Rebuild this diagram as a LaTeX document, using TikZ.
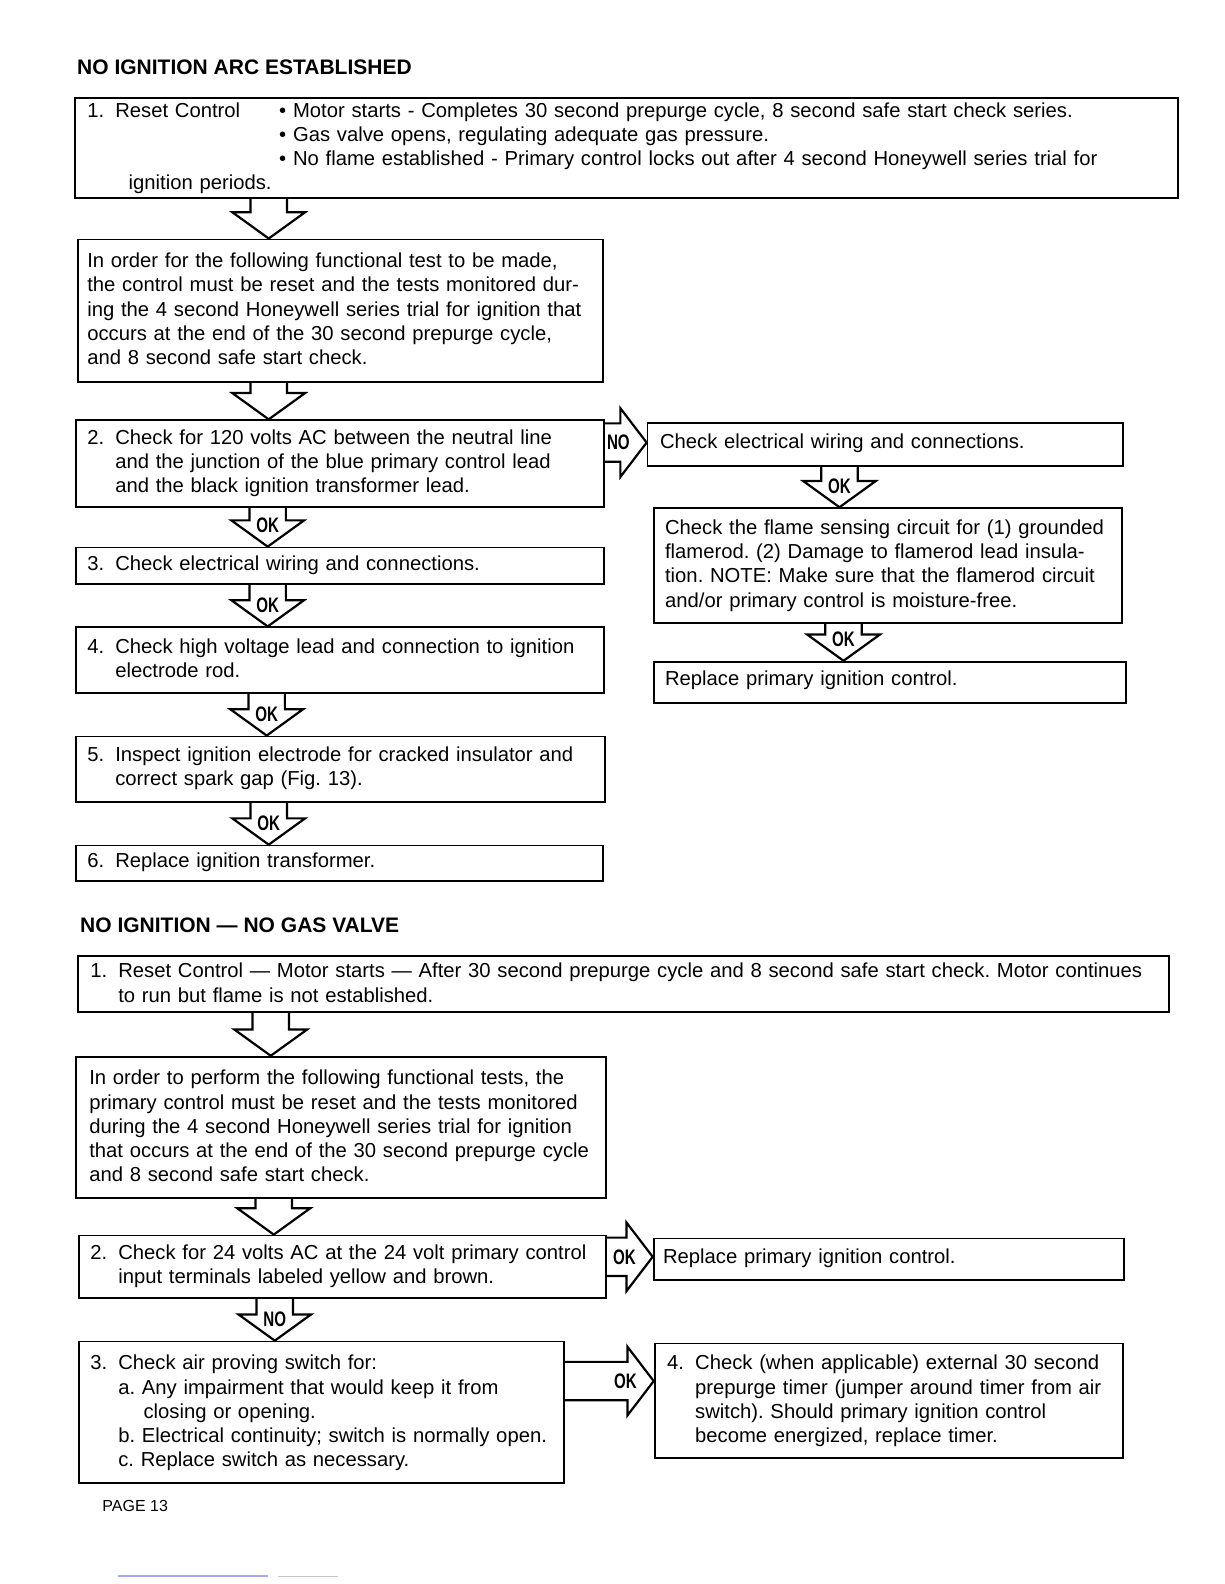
\documentclass[tikz,border=0pt]{standalone}
\usepackage{fontspec}
\setmainfont{Liberation Sans}
\newfontfamily\condfont{Liberation Sans}[FakeStretch=0.72]
\usetikzlibrary{calc,fit}
\frenchspacing
\newlength\numw
\setlength\numw{14pt}
\newcommand\nm[1]{\makebox[\numw][l]{#1}}
\newcommand\ind{\hspace*{\numw}}
\newcommand\darrow[4]{%
  \coordinate (dx) at (#3,0);
  \coordinate (ds) at (dx |- #1.south);
  \coordinate (de) at (dx |- #2.north);
  \draw[arr] ($(ds)+(-18,0)$) -- ($(de)+(-18,-26)$) -- ++(-18,0) -- (de) -- ++(36,-26) -- ++(-18,0) -- ($(ds)+(18,0)$);
  \node[lbl] at ($(de)+(0,-21)$) {#4};}
\newcommand\rarrow[4]{%
  \coordinate (ry) at ($(#2.north west)+(0,#3)$);
  \coordinate (rs) at (#1.east |- ry);
  \draw[arr] ($(rs)+(0,-19)$) -- ($(ry)+(-26,-19)$) -- ++(0,-15) -- (ry) -- ++(-26,34) -- ++(0,-15) -- ($(rs)+(0,19)$);
  \node[lbl] at ($(ry)+(-28,0)$) {#4};}
\begin{document}
\begin{tikzpicture}[x=0.505pt,y=-0.505pt,
  box/.style={draw, line width=0.9pt, inner sep=0pt},
  arr/.style={draw, line width=1.1pt, line join=miter},
  txt/.style={anchor=base west, inner sep=0pt, align=left, text width=25cm, font=\fontsize{10.12}{12.12}\selectfont},
  ttl/.style={anchor=base west, inner sep=0pt, font=\bfseries\fontsize{10.5}{12}\selectfont},
  lbl/.style={inner sep=0pt, font=\condfont\bfseries\fontsize{10.5}{10.5}\selectfont}]
\useasboundingbox (0,0) rectangle (1212,1568);

% ---------- Section 1 ----------
\node[ttl] (title1) at (76,74) {NO IGNITION ARC ESTABLISHED};

\node[box, fit={(74,97) (1166,196)}] (b1) {};
\node[txt] (b1a) at (86,116) {\nm{1.}Reset Control};
\node[txt] (b1b) at (276,116) {• Motor starts - Completes 30 second prepurge cycle, 8 second safe start check series.\\
• Gas valve opens, regulating adequate gas pressure.\\
• No flame established - Primary control locks out after 4 second Honeywell series trial for};
\node[txt] (b1c) at (127,188) {ignition periods.};

\node[box, fit={(77,237) (597,378)}] (b2) {};
\node[txt] (b2t) at (86,265) {In order for the following functional test to be made,\\
the control must be reset and the tests monitored dur-\\
ing the 4 second Honeywell series trial for ignition that\\
occurs at the end of the 30 second prepurge cycle,\\
and 8 second safe start check.};

\node[box, fit={(75,416) (598,502)}] (s2) {};
\node[txt] (s2t) at (86,440) {\nm{2.}Check for 120 volts AC between the neutral line\\
\ind and the junction of the blue primary control lead\\
\ind and the black ignition transformer lead.};

\node[box, fit={(75,542) (598,578)}] (s3) {};
\node[txt] (s3t) at (86,565) {\nm{3.}Check electrical wiring and connections.};

\node[box, fit={(75,621) (598,686)}] (s4) {};
\node[txt] (s4t) at (86,647) {\nm{4.}Check high voltage lead and connection to ignition\\
\ind electrode rod.};

\node[box, fit={(75,729) (599,794)}] (s5) {};
\node[txt] (s5t) at (86,754) {\nm{5.}Inspect ignition electrode for cracked insulator and\\
\ind correct spark gap (Fig. 13).};

\node[box, fit={(75,837) (597,872)}] (s6) {};
\node[txt] (s6t) at (86,859) {\nm{6.}Replace ignition transformer.};

\node[box, fit={(641,419) (1112,461)}] (ra) {};
\node[txt] (rat) at (653,444) {Check electrical wiring and connections.};

\node[box, fit={(647,503) (1111,617)}] (rb) {};
\node[txt] (rbt) at (658,529) {Check the flame sensing circuit for (1) grounded\\
flamerod. (2) Damage to flamerod lead insula-\\
tion. NOTE: Make sure that the flamerod circuit\\
and/or primary control is moisture-free.};

\node[box, fit={(647,655) (1115,696)}] (rc) {};
\node[txt] (rct) at (658,679) {Replace primary ignition control.};

\darrow{b1}{b2}{266}{}
\darrow{b2}{s2}{266}{}
\darrow{s2}{s3}{265}{OK}
\darrow{s3}{s4}{265}{OK}
\darrow{s4}{s5}{264}{OK}
\darrow{s5}{s6}{266}{OK}
\darrow{ra}{rb}{831}{OK}
\darrow{rb}{rc}{835}{OK}
\rarrow{s2}{ra}{20}{NO}

% ---------- Section 2 ----------
\node[ttl] (title2) at (79,923) {NO IGNITION --- NO GAS VALVE};

\node[box, fit={(77,946) (1157,1002)}] (n1) {};
\node[txt] (n1t) at (89,968) {\nm{1.}Reset Control --- Motor starts --- After 30 second prepurge cycle and 8 second safe start check. Motor continues\\
\ind to run but flame is not established.};

\node[box, fit={(75,1046) (600,1186)}] (n2) {};
\node[txt] (n2t) at (88,1074) {In order to perform the following functional tests, the\\
primary control must be reset and the tests monitored\\
during the 4 second Honeywell series trial for ignition\\
that occurs at the end of the 30 second prepurge cycle\\
and 8 second safe start check.};

\node[box, fit={(78,1223) (600,1285)}] (n3) {};
\node[txt] (n3t) at (89,1247) {\nm{2.}Check for 24 volts AC at the 24 volt primary control\\
\ind input terminals labeled yellow and brown.};

\node[box, fit={(647,1226) (1113,1267)}] (nr) {};
\node[txt] (nrt) at (656,1251) {Replace primary ignition control.};

\node[box, fit={(78,1328) (558,1468)}] (n4) {};
\node[txt] (n4t) at (89,1356) {\nm{3.}Check air proving switch for:\\
\ind a. Any impairment that would keep it from\\
\ind\hspace*{12.6pt}closing or opening.\\
\ind b. Electrical continuity; switch is normally open.\\
\ind c. Replace switch as necessary.};

\node[box, fit={(648,1330) (1112,1443)}] (n5) {};
\node[txt] (n5t) at (660,1356) {\nm{4.}Check (when applicable) external 30 second\\
\ind prepurge timer (jumper around timer from air\\
\ind switch). Should primary ignition control\\
\ind become energized, replace timer.};

\darrow{n1}{n2}{268}{}
\darrow{n2}{n3}{271}{}
\darrow{n3}{n4}{272}{NO}
\rarrow{n3}{nr}{19}{OK}
\rarrow{n4}{n5}{38}{OK}

\node[anchor=base west, inner sep=0pt, font=\fontsize{8}{9}\selectfont] (page) at (101,1496) {PAGE 13};
\draw[blue!35, line width=0.6pt] (117,1560) -- (265,1560);
\draw[gray!45, line width=0.5pt] (275,1561) -- (335,1561);
\end{tikzpicture}
\end{document}
